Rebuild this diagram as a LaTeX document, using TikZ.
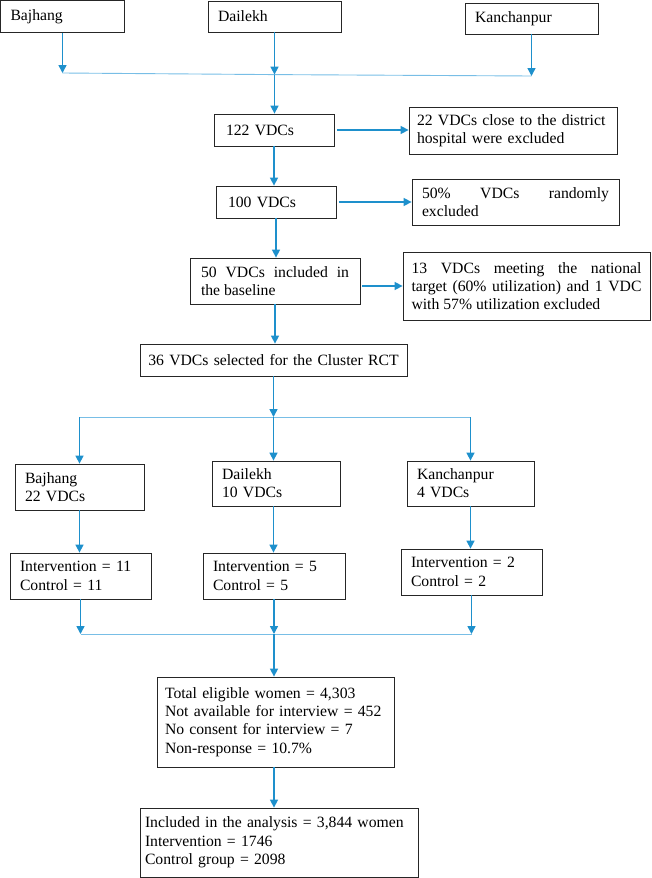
\documentclass[tikz,border=0pt]{standalone}
\usepackage{fontspec}
\setmainfont{Liberation Serif}
\usetikzlibrary{arrows.meta}
\definecolor{arrowblue}{RGB}{30,144,204}
\definecolor{lineblue}{RGB}{120,190,230}
\hyphenpenalty=10000
\exhyphenpenalty=10000
\tikzset{
  box/.style={draw=black!85, line width=.8pt, inner xsep=10pt, inner ysep=0pt,
    align=left, font=\fontsize{15.7}{18.3}\selectfont},
  arr/.style={draw=arrowblue, line width=1.5pt, -{Triangle[length=8pt,width=8pt]}},
  hline/.style={draw=lineblue, line width=.9pt},
}
\begin{document}
\begin{tikzpicture}[x=1pt,y=-1pt]
\useasboundingbox (0,0) rectangle (651,878);
\path
    ( 62.5, 16.5) node [box,minimum width=124,minimum height=32,text width=104] (baj)  {Bajhang}
    (274.5, 16.5) node [box,minimum width=133,minimum height=31,text width=113] (dai)  {Dailekh}
    (531.5, 18.5) node [box,minimum width=133,minimum height=31,text width=113] (kan)  {Kanchanpur}
    (274  ,130  ) node [box,minimum width=120,minimum height=32,text width=96,inner xsep=12] (n122) {122 VDCs}
    (513  ,130.5) node [box,minimum width=208,minimum height=47,text width=192,inner xsep=8] (ex22)
        {22 VDCs close to the district\\hospital were excluded}
    (276  ,202  ) node [box,minimum width=120,minimum height=32,text width=96,inner xsep=12] (n100) {100 VDCs}
    (515.5,202  ) node [box,minimum width=207,minimum height=46,text width=187,align=justify] (ex50)
        {50\% VDCs randomly\linebreak excluded}
    (275  ,281  ) node [box,minimum width=170,minimum height=46,text width=148,inner xsep=11,align=justify] (n50)
        {50 VDCs included in\linebreak the baseline}
    (526.5,286  ) node [box,minimum width=247,minimum height=68,text width=230,inner xsep=8.5,align=justify] (ex13)
        {13 VDCs meeting the national\linebreak target (60\% utilization) and 1 VDC\linebreak with 57\% utilization excluded}
    (273.5,360  ) node [box,minimum width=267,minimum height=32,text width=257,inner xsep=5,align=center] (n36)
        {36 VDCs selected for the Cluster RCT}
    ( 79.5,487  ) node [box,minimum width=129,minimum height=46,text width=109] (baj2) {Bajhang\\22 VDCs}
    (276  ,483.5) node [box,minimum width=128,minimum height=45,text width=108] (dai2) {Dailekh\\10 VDCs}
    (470.5,483.5) node [box,minimum width=127,minimum height=45,text width=107] (kan2) {Kanchanpur\\4 VDCs}
    ( 80.5,576  ) node [box,minimum width=141,minimum height=46,text width=121] (int11) {Intervention = 11\\Control = 11}
    (274  ,576  ) node [box,minimum width=142,minimum height=46,text width=122] (int5)  {Intervention = 5\\Control = 5}
    (471.5,572  ) node [box,minimum width=141,minimum height=46,text width=121] (int2)  {Intervention = 2\\Control = 2}
    (275.5,722  ) node [box,minimum width=237,minimum height=90,text width=221,inner xsep=8] (tot)
        {Total eligible women = 4,303\\Not available for interview = 452\\No consent for interview = 7\\Non-response = 10.7\%}
    (279  ,842.5) node [box,minimum width=278,minimum height=69,text width=268,inner xsep=5] (incl)
        {Included in the analysis = 3,844 women\\Intervention = 1746\\Control group = 2098};
\coordinate (jl) at ( 62.5, 73  );
\coordinate (jm) at (274.5, 74.6);
\coordinate (jr) at (531.5, 76  );
\coordinate (sl) at ( 79.5,417  );
\coordinate (sm) at (273.5,417  );
\coordinate (sr) at (470.5,417  );
\coordinate (ml) at ( 80.5,634  );
\coordinate (mm) at (274  ,634  );
\coordinate (mr) at (471.5,634  );
\draw[hline] (jl) -- (jm) -- (jr);
\draw[hline] (sl) -- (sr);
\draw[hline] (ml) -- (mr);
\draw[arr] (baj.south) -- (jl);
\draw[arr] (dai.south) -- (jm);
\draw[arr] (kan.south) -- (jr);
\draw[arr] (jm) -- (jm |- n122.north);
\draw[arr] (n122.south) -- (n122.south |- n100.north);
\draw[arr] (n100.south) -- (n100.south |- n50.north);
\draw[arr] (n50.south) -- (n50.south |- n36.north);
\draw[arr] ([xshift=3pt]n122.east) -- (n122.east -| ex22.west);
\draw[arr] ([xshift=3pt]n100.east) -- (n100.east -| ex50.west);
\draw[arr] ([xshift=2pt]n50.east |- ex13) -- (ex13.west);
\draw[arr] (n36.south) -- (sm);
\draw[arr] (sl) -- (sl |- baj2.north);
\draw[arr] (sm) -- (sm |- dai2.north);
\draw[arr] (sr) -- (sr |- kan2.north);
\draw[arr] (baj2.south) -- (baj2.south |- int11.north);
\draw[arr] (dai2.south -| sm) -- (sm |- int5.north);
\draw[arr] (kan2.south) -- (kan2.south |- int2.north);
\draw[arr] (int11.south) -- (ml);
\draw[arr] (int5.south) -- (mm);
\draw[arr] (int2.south) -- (mr);
\draw[arr] (mm) -- (mm |- tot.north);
\draw[arr] (tot.south -| mm) -- (mm |- incl.north);
\end{tikzpicture}
\end{document}
